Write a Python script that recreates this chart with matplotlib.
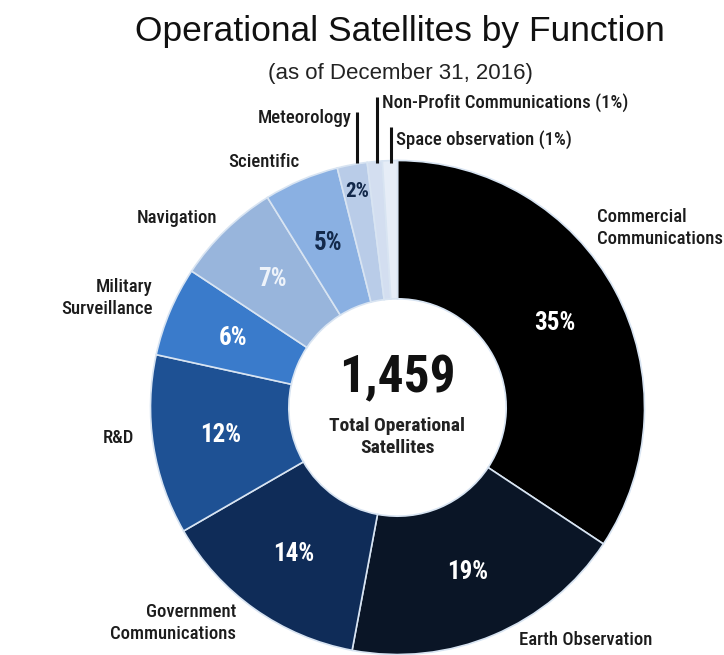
import numpy as np
import matplotlib
matplotlib.use("Agg")
import matplotlib.pyplot as plt

# Operational satellites by function, share of total (%)
functions = [
    "Commercial\nCommunications",
    "Earth Observation",
    "Government\nCommunications",
    "R&D",
    "Military\nSurveillance",
    "Navigation",
    "Scientific",
    "Meteorology",
    "Non-Profit Communications",
    "Space observation",
]
shares = [35, 19, 14, 12, 6, 7, 5, 2, 1, 1]
total_satellites = "1,459"

colors = ["#000000", "#0a1526", "#0f2c58", "#1e5194", "#3a7bcb",
          "#98b5dc", "#8ab0e2", "#b9cce8", "#d3def0", "#e6edf7"]
pct_colors = ["white", "white", "white", "white", "white",
              "#eef3fa", "#13294b", "#13294b", None, None]

CONDENSED = ["Roboto Condensed", "Liberation Sans Narrow", "Roboto",
             "DejaVu Sans"]
REGULAR = ["Liberation Sans", "DejaVu Sans"]

W, H = 724, 655
cx, cy, R = 397.5, 407.5, 247.0  # donut centre and radius in pixels

fig = plt.figure(figsize=(W / 100, H / 100), dpi=100)
ax = fig.add_axes([0, 0, 1, 1])

wedges, _ = ax.pie(
    shares, colors=colors, startangle=90, counterclock=False, radius=1.0,
    wedgeprops=dict(width=0.56, edgecolor="#d8e4f2", linewidth=1.2),
)

ax.set_xlim(-cx / R, (W - cx) / R)
ax.set_ylim((cy - H) / R, cy / R)
ax.set_aspect("equal")
ax.axis("off")

# percentage labels inside the ring
for w, val, col in zip(wedges, shares, pct_colors):
    if col is None:
        continue
    mid = np.deg2rad((w.theta1 + w.theta2) / 2)
    r = 0.89 if val <= 2 else 0.725
    ax.text(r * np.cos(mid), r * np.sin(mid), f"{val}%", ha="center",
            va="center", fontsize=18 if val > 2 else 15, fontweight="bold",
            color=col, family=CONDENSED)

label_kw = dict(fontsize=13.5, fontweight="medium", color="#1c1c1c",
                family=CONDENSED, linespacing=1.25)

def px(x, y):
    return (x - cx) / R, (cy - y) / R

# outer category labels
ax.text(*px(597, 228), functions[0], ha="left", va="center", **label_kw)
ax.text(*px(519, 640), functions[1], ha="left", va="center", **label_kw)
ax.text(*px(236, 623), functions[2], ha="right", va="center",
        multialignment="right", **label_kw)
ax.text(*px(134, 438), functions[3], ha="right", va="center", **label_kw)
ax.text(*px(153, 298), functions[4], ha="right", va="center",
        multialignment="right", **label_kw)
ax.text(*px(217, 218), functions[5], ha="right", va="center", **label_kw)
ax.text(*px(300, 162), functions[6], ha="right", va="center", **label_kw)

# leader lines for the thin slices at the top
top_y = px(0, 163)[1]
line_tops = [112, 97, 127]
text_rows = [118, 103, 140]
for k, (i, ytop, ytxt) in enumerate(zip([7, 8, 9], line_tops, text_rows)):
    w = wedges[i]
    mid = np.deg2rad((w.theta1 + w.theta2) / 2)
    lx = 0.9 * np.cos(mid)
    ax.plot([lx, lx], [top_y, px(0, ytop)[1]], color="#111111", lw=2.2,
            solid_capstyle="butt")
    if k == 0:
        ax.text(lx - 0.02, px(0, ytxt)[1], functions[i], ha="right",
                va="center", **label_kw)
    else:
        ax.text(lx + 0.02, px(0, ytxt)[1], f"{functions[i]} ({shares[i]}%)",
                ha="left", va="center", **label_kw)

# centre text
ax.text(0, px(0, 378)[1], total_satellites, ha="center", va="center",
        fontsize=37, fontweight="bold", color="#111111", family=CONDENSED)
ax.text(0, px(0, 437)[1], "Total Operational\nSatellites", ha="center",
        va="center", fontsize=14, fontweight="bold", color="#222222",
        family=CONDENSED, linespacing=1.25)

fig.text(400 / W, 1 - 32 / H, "Operational Satellites by Function",
         ha="center", va="center", fontsize=25.5, color="#111111",
         family=REGULAR)
fig.text(400 / W, 1 - 73 / H, "(as of December 31, 2016)", ha="center",
         va="center", fontsize=16, color="#222222", family=REGULAR)

fig.savefig("out.png", dpi=100, facecolor="white")
